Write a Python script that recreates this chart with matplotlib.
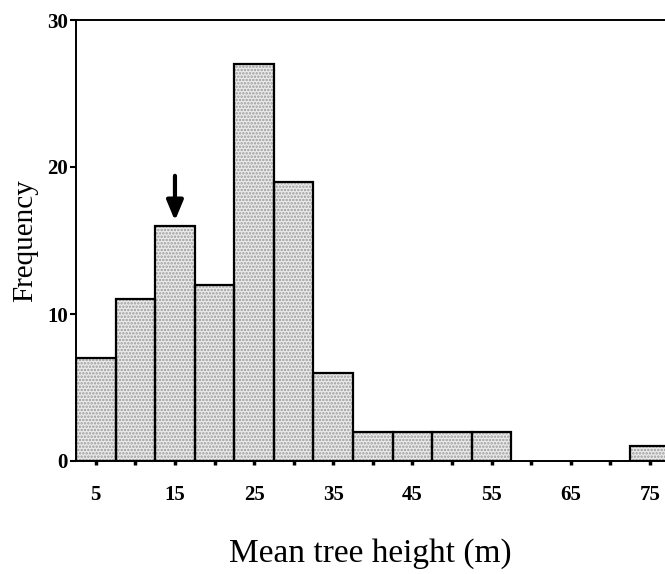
import matplotlib
matplotlib.use("Agg")
import matplotlib.pyplot as plt

# Data
bin_centers = [5, 10, 15, 20, 25, 30, 35, 40, 45, 50, 55, 60, 65, 70, 75]
frequencies = [7, 11, 16, 12, 27, 19, 6, 2, 2, 2, 2, 0, 0, 0, 1]
bin_width = 5
xtick_positions = [5, 15, 25, 35, 45, 55, 65, 75]
xtick_labels = ["5", "15", "25", "35", "45", "55", "65", "75"]
yticks = [0, 10, 20, 30]
arrow_x = 15
arrow_top = 16

plt.rcParams['font.family'] = ['Liberation Serif', 'DejaVu Serif']
plt.rcParams['hatch.linewidth'] = 1.2

fig = plt.figure(figsize=(6.65, 5.74), dpi=100)
ax = fig.add_axes([76/665, 1 - 461/574, 1 - 76/665, (461 - 20)/574])

nonzero = [(c, f) for c, f in zip(bin_centers, frequencies) if f > 0]
cs = [c for c, f in nonzero]
fs = [f for c, f in nonzero]
ax.bar(cs, fs, width=bin_width, facecolor='#ebebeb', edgecolor='#9a9a9a',
       hatch='.....', linewidth=0, zorder=2)
ax.bar(cs, fs, width=bin_width, fill=False, edgecolor='black',
       linewidth=1.6, zorder=3)

ax.set_xlim(2.5, 76.9)
ax.set_ylim(0, 30)

ax.spines['right'].set_visible(False)
for s in ['left', 'top', 'bottom']:
    ax.spines[s].set_linewidth(1.4)

ax.set_xticks(bin_centers, minor=True)
ax.set_xticks(xtick_positions)
ax.set_xticklabels(xtick_labels, fontsize=15, fontweight='bold')
ax.set_yticks(yticks)
ax.set_yticklabels([str(v) for v in yticks], fontsize=15, fontweight='bold')
ax.tick_params(axis='x', which='both', direction='out', length=3, width=2.5, pad=14)
ax.tick_params(axis='y', direction='out', length=4, width=1.5, pad=2)

ax.set_xlabel('Mean tree height (m)', fontsize=24, labelpad=24)
ax.set_ylabel('Frequency', fontsize=21, labelpad=6)

ax.annotate('', xy=(arrow_x, arrow_top + 0.35), xytext=(arrow_x, arrow_top + 3.4),
            arrowprops=dict(arrowstyle='-|>,head_width=0.5,head_length=1.2',
                            color='black', lw=3, shrinkA=0, shrinkB=0),
            zorder=5)

fig.savefig('out.png', dpi=100)
